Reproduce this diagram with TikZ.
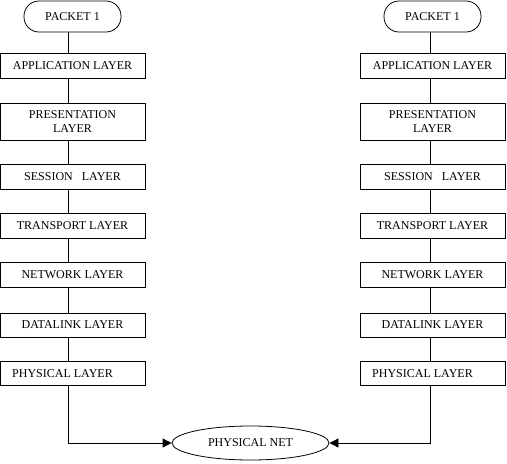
\documentclass[tikz,border=0pt]{standalone}
\usepackage{fontspec}
\setmainfont{Liberation Serif}
\usetikzlibrary{shapes.geometric,arrows.meta}
\begin{document}
\begin{tikzpicture}[x=1pt,y=-1pt,
  font=\fontsize{12}{14}\selectfont,
  layerbox/.style={draw,line width=0.8pt,rectangle,minimum width=145pt,inner sep=0pt,align=center},
  packetbox/.style={draw,line width=0.8pt,rounded corners=15pt,minimum width=97pt,minimum height=31pt,inner sep=0pt},
  netnode/.style={draw,line width=0.8pt,ellipse,minimum width=157pt,minimum height=34pt,inner sep=0pt},
  link/.style={line width=0.8pt},
  arr/.style={line width=0.8pt,-{Triangle[length=9pt,width=9pt]}}]
\useasboundingbox (0,0) rectangle (507,464);
% left column
\node[packetbox] (lp) at (72.5,16.5) {PACKET 1};
\node[layerbox,minimum height=25pt] (la) at (72.5,65.5) {APPLICATION LAYER};
\node[layerbox,minimum height=37pt] (lpr) at (72.5,121.5) {PRESENTATION\\LAYER};
\node[layerbox,minimum height=25pt] (ls) at (72.5,176.5) {SESSION\ \ \ LAYER};
\node[layerbox,minimum height=25pt] (lt) at (72.5,225.5) {TRANSPORT LAYER};
\node[layerbox,minimum height=25pt] (ln) at (72.5,274.5) {NETWORK LAYER};
\node[layerbox,minimum height=24pt] (ld) at (72.5,325) {DATALINK LAYER};
\node[layerbox,minimum height=24pt] (lph) at (72.5,373.5) {\hspace*{-20pt}PHYSICAL LAYER};
% right column
\node[packetbox] (rp) at (432.5,16.5) {PACKET 1};
\node[layerbox,minimum height=25pt] (ra) at (432.5,65.5) {APPLICATION LAYER};
\node[layerbox,minimum height=37pt] (rpr) at (432.5,121.5) {PRESENTATION\\LAYER};
\node[layerbox,minimum height=25pt] (rs) at (432.5,176.5) {SESSION\ \ \ LAYER};
\node[layerbox,minimum height=25pt] (rt) at (432.5,225.5) {TRANSPORT LAYER};
\node[layerbox,minimum height=25pt] (rn) at (432.5,274.5) {NETWORK LAYER};
\node[layerbox,minimum height=24pt] (rd) at (432.5,325) {DATALINK LAYER};
\node[layerbox,minimum height=24pt] (rph) at (432.5,373.5) {\hspace*{-20pt}PHYSICAL LAYER};
% net
\node[netnode] (net) at (250.5,443) {PHYSICAL NET};
% connectors
\foreach \a/\b in {lp/la,la/lpr,lpr/ls,ls/lt,lt/ln,ln/ld,ld/lph}
  \draw[link] ([xshift=-4.5pt]\a.south) -- ([xshift=-4.5pt]\b.north);
\foreach \a/\b in {rp/ra,ra/rpr,rpr/rs,rs/rt,rt/rn,rn/rd,rd/rph}
  \draw[link] ([xshift=-2.5pt]\a.south) -- ([xshift=-2.5pt]\b.north);
\draw[arr] ([xshift=-4.5pt]lph.south) |- (net.west);
\draw[arr] ([xshift=-2.5pt]rph.south) |- (net.east);
\end{tikzpicture}
\end{document}
